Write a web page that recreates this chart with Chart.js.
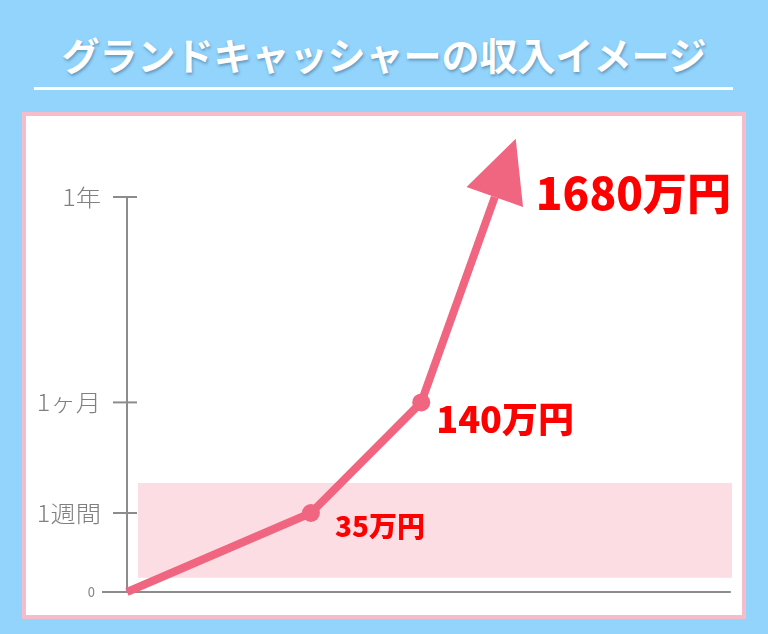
<!DOCTYPE html>
<html lang="ja">
<head>
<meta charset="utf-8">
<title>グランドキャッシャーの収入イメージ</title>
<script src="https://cdn.jsdelivr.net/npm/chart.js@4/dist/chart.umd.min.js"></script>
<style>
  html, body { margin: 0; padding: 0; }
  body {
    width: 768px; height: 634px; overflow: hidden; position: relative;
    background: #93d4fd;
    font-family: "Noto Sans CJK JP", "Noto Sans", sans-serif;
  }
  h1 {
    position: absolute; left: 0; top: 35px; width: 768px; margin: 0;
    text-align: center; font-size: 38px; line-height: 38px; font-weight: 700;
    color: #fff; text-shadow: 1px 2px 3px rgba(40, 80, 110, 0.45);
    letter-spacing: 0;
  }
  .rule { position: absolute; left: 34px; top: 87px; width: 699px; height: 3px; background: #fff; }
  .panel {
    position: absolute; left: 22px; top: 112px; width: 724px; height: 507px;
    box-sizing: border-box; border: 4px solid #f5bdcb; background: #fff;
  }
  #chart { position: absolute; left: 0; top: 0; }
</style>
</head>
<body>
<h1>グランドキャッシャーの収入イメージ</h1>
<div class="rule"></div>
<div class="panel"></div>
<canvas id="chart" width="768" height="634"></canvas>
<script>
// --- データ ---
const xPositions = [0, 30, 48, 60];          // 横方向の位置（0 = 原点）
const yLevels = [0, 1, 2.4, 5];              // 期間レベル（0 / 1週間 / 1ヶ月 / 1年）
const yTickValues = [0, 1, 2.4, 5];
const yTickLabels = ['0', '1週間', '1ヶ月', '1年'];
const incomeLabels = ['', '35万円', '140万円', '1680万円'];

const lineColor = '#f0657f';
const labelColor = '#ff0000';
const axisColor = '#8c8c8c';

// --- 背景の帯・軸・目盛り ---
const axesPlugin = {
    id: 'axesPlugin',
    beforeDatasetsDraw(chart) {
        const { ctx } = chart;
        const xs = chart.scales.x;
        const ys = chart.scales.y;

        // ピンクの帯
        const x0 = xs.getPixelForValue(1.8), x1 = xs.getPixelForValue(98.7);
        const y0 = ys.getPixelForValue(1.38), y1 = ys.getPixelForValue(0.18);
        ctx.save();
        ctx.fillStyle = '#fcdde4';
        ctx.fillRect(x0, y0, x1 - x0, y1 - y0);

        // 軸
        const ax = xs.getPixelForValue(0);
        const base = ys.getPixelForValue(0);
        const top = ys.getPixelForValue(yTickValues[yTickValues.length - 1]);
        ctx.strokeStyle = axisColor;
        ctx.lineWidth = 2;
        ctx.beginPath();
        ctx.moveTo(ax, top);
        ctx.lineTo(ax, base);
        ctx.moveTo(ax - 25, base);
        ctx.lineTo(xs.getPixelForValue(98.5), base);
        ctx.stroke();

        // 目盛り
        ctx.textAlign = 'right';
        ctx.textBaseline = 'middle';
        ctx.fillStyle = '#808080';
        yTickValues.forEach((v, i) => {
            const py = ys.getPixelForValue(v);
            if (v !== 0) {
                ctx.beginPath();
                ctx.moveTo(ax - 14, py);
                ctx.lineTo(ax + 10, py);
                ctx.stroke();
                ctx.font = '300 22px "Noto Sans CJK JP"';
                ctx.save();
                ctx.translate(ax - 26, py);
                ctx.scale(1.15, 1.05);
                ctx.fillText(yTickLabels[i], 0, 0);
                ctx.restore();
            } else {
                ctx.font = '13px "Noto Sans CJK JP"';
                ctx.fillText(yTickLabels[i], ax - 32, py);
            }
        });
        ctx.restore();
    }
};

// --- 矢印と金額ラベル ---
const arrowPlugin = {
    id: 'arrowPlugin',
    afterDatasetsDraw(chart) {
        const { ctx } = chart;
        const pts = chart.getDatasetMeta(0).data;
        const last = pts[pts.length - 1];
        const prev = pts[pts.length - 2];
        const dx = last.x - prev.x, dy = last.y - prev.y;
        const len = Math.hypot(dx, dy);
        const ux = dx / len, uy = dy / len;
        const headLen = 62, halfW = 30;

        ctx.save();
        ctx.fillStyle = lineColor;
        ctx.beginPath();
        ctx.moveTo(last.x + ux * headLen, last.y + uy * headLen);
        ctx.lineTo(last.x - uy * halfW, last.y + ux * halfW);
        ctx.lineTo(last.x + uy * halfW, last.y - ux * halfW);
        ctx.closePath();
        ctx.fill();

        const fonts = [0, 28, 36, 44];
        const offsets = [[0, 0], [24, 13], [15, 17], [41, -4]];
        ctx.fillStyle = labelColor;
        ctx.textAlign = 'left';
        ctx.textBaseline = 'middle';
        pts.forEach((p, i) => {
            if (!incomeLabels[i]) return;
            ctx.font = `900 ${fonts[i]}px "Noto Sans CJK JP"`;
            ctx.fillText(incomeLabels[i], p.x + offsets[i][0], p.y + offsets[i][1]);
        });
        ctx.restore();
    }
};

const ctx = document.getElementById('chart').getContext('2d');
new Chart(ctx, {
    type: 'line',
    data: {
        datasets: [{
            data: xPositions.map((x, i) => ({ x: x, y: yLevels[i] })),
            borderColor: lineColor,
            backgroundColor: lineColor,
            borderWidth: 8,
            borderCapStyle: 'butt',
            borderJoinStyle: 'round',
            tension: 0,
            pointRadius: [0, 9, 9, 0],
            pointBorderWidth: 0,
            pointBackgroundColor: lineColor,
            clip: false
        }]
    },
    options: {
        responsive: false,
        animation: false,
        events: [],
        layout: { padding: { left: 127, right: 28, top: 118, bottom: 42 } },
        scales: {
            x: { type: 'linear', min: 0, max: 100, display: false },
            y: { type: 'linear', min: 0, max: 6, display: false }
        },
        plugins: { legend: { display: false }, tooltip: { enabled: false } }
    },
    plugins: [axesPlugin, arrowPlugin]
});
</script>
</body>
</html>
